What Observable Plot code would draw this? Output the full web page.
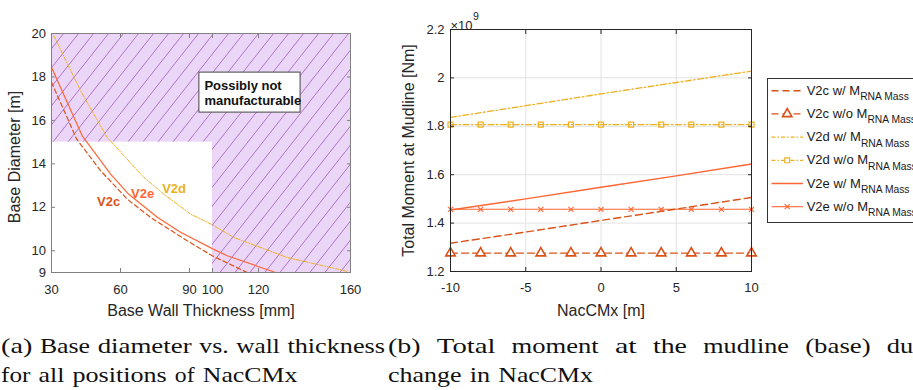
<!DOCTYPE html>
<html>
<head>
<meta charset="utf-8">
<script src="https://cdn.jsdelivr.net/npm/d3@7"></script>
<script src="https://cdn.jsdelivr.net/npm/@observablehq/plot@0.6"></script>
<style>
  html,body{margin:0;padding:0;background:#fff;}
  body{width:913px;height:390px;position:relative;overflow:hidden;}
  .abs{position:absolute;}
</style>
</head>
<body>
<svg width="0" height="0" style="position:absolute">
  <defs>
    <pattern id="hatch" patternUnits="userSpaceOnUse" x="0" y="0" width="15" height="19">
      <rect width="15" height="19" fill="#ECD6F8"></rect>
      <path d="M-1.5,20.9L16.5,-1.9" stroke="#9552B8" stroke-width="0.75" fill="none"></path>
    </pattern>
  </defs>
</svg>
<div id="left" class="abs" style="left:0;top:0"></div>
<div id="right" class="abs" style="left:380px;top:0"></div>
<div id="legend" class="abs" style="left:760px;top:70px"></div>
<div id="caption" class="abs" style="left:0;top:320px"></div>
<script>
// ---------- (a) Base diameter vs. wall thickness ----------
const thickV2c = [30, 40.9, 51.3, 62.9, 73, 89, 99.9, 115.1];
const diamV2c  = [17.76, 15.15, 13.69, 12.38, 11.54, 10.46, 9.77, 9.0];
const thickV2e = [30, 43.3, 55.7, 63.6, 76, 86.1, 99.9, 106.4, 127.4];
const diamV2e  = [18.45, 15.3, 13.53, 12.6, 11.54, 10.85, 10.1, 9.77, 9.0];
const thickV2d = [31, 42.6, 54.2, 70.1, 78.8, 90.4, 99.9, 109.3, 132.5, 158.6];
const diamV2d  = [19.9, 17.37, 15.22, 13.38, 12.61, 11.69, 11.2, 10.61, 9.69, 9.05];
const diamXTicks = [30, 60, 90, 100, 120, 160];
const diamYTicks = [9, 10, 12, 14, 16, 18, 20];
// region considered possibly not manufacturable (thickness > 100 mm or diameter > 15 m)
const hatchX1 = [100, 30], hatchX2 = [160, 100], hatchY1 = [9, 15], hatchY2 = [20, 20];
const noteX = [94.3, 138.3], noteY = [16.36, 18.2];
const noteText = "Possibly not\nmanufacturable";
const curveNames = ["V2c", "V2e", "V2d"];
const curveLabelX = [54.8, 69.6, 83.3];
const curveLabelY = [12.27, 12.64, 12.87];

// ---------- (b) Total moment at mudline vs NacCMx (x 10^9 Nm) ----------
const nacX  = [-10, -8, -6, -4, -2, 0, 2, 4, 6, 8, 10];
const nacXw = [-10, -5, 0, 5, 10];
const v2cWith    = [1.317, 1.363, 1.411, 1.458, 1.506];
const v2dWith    = [1.837, 1.885, 1.934, 1.981, 2.028];
const v2eWith    = [1.454, 1.500, 1.548, 1.595, 1.644];
const v2cWithout = [1.276, 1.276, 1.276, 1.276, 1.276, 1.276, 1.276, 1.276, 1.276, 1.276, 1.276];
const v2dWithout = [1.807, 1.807, 1.807, 1.807, 1.807, 1.807, 1.807, 1.807, 1.807, 1.807, 1.807];
const v2eWithout = [1.457, 1.457, 1.457, 1.457, 1.457, 1.457, 1.457, 1.457, 1.457, 1.457, 1.457];
const momXTicks = [-10, -5, 0, 5, 10];
const momYTicks = [1.2, 1.4, 1.6, 1.8, 2.0, 2.2];
const legendMain = ["V2c w/ M", "V2c w/o M", "V2d w/ M", "V2d w/o M", "V2e w/ M", "V2e w/o M"];
const legendSub = "RNA Mass";

// ---------- captions ----------
const capA1 = ["(a)", "Base", "diameter", "vs.", "wall", "thickness"];
const capA2 = ["for", "all", "positions", "of", "NacCMx"];
const capB1 = ["(b)", "Total", "moment", "at", "the", "mudline", "(base)", "due"];
const capB2 = ["change", "in", "NacCMx"];

const C_V2C = "#D95319", C_V2D = "#EDB120", C_V2E = "#FF6633";
const FONT = "'Liberation Sans', Arial, Helvetica, sans-serif";

function boxAxes(xt, yt, col, xfmt, yfmt, padX, padY) {
  const blank = () => "";
  return [
    Plot.axisX(xt, {anchor: "bottom", tickSize: -4, tickFormat: blank, stroke: col, label: null}),
    Plot.axisX(xt, {anchor: "top", tickSize: -4, tickFormat: blank, stroke: col, label: null}),
    Plot.axisY(yt, {anchor: "left", tickSize: -4, tickFormat: blank, stroke: col, label: null}),
    Plot.axisY(yt, {anchor: "right", tickSize: -4, tickFormat: blank, stroke: col, label: null}),
    Plot.axisX(xt, {anchor: "bottom", tickSize: 0, tickPadding: padX, tickFormat: xfmt, fill: "#262626", label: null}),
    Plot.axisY(yt, {anchor: "left", tickSize: 0, tickPadding: padY, tickFormat: yfmt, fill: "#262626", label: null})
  ];
}
const idx = a => a.map((_, i) => i);

// ---------- left chart ----------
const leftPlot = Plot.plot({
  width: 380, height: 320,
  marginLeft: 51, marginRight: 30, marginTop: 33, marginBottom: 48,
  style: {fontFamily: FONT, fontSize: "13px", color: "#262626", background: "transparent", overflow: "visible"},
  x: {domain: [30, 160]},
  y: {domain: [9, 20]},
  marks: [
    Plot.rect(idx(hatchX1), {x1: i => hatchX1[i], x2: i => hatchX2[i], y1: i => hatchY1[i], y2: i => hatchY2[i], fill: "url(#hatch)"}),
    Plot.line(idx(thickV2d), {x: i => thickV2d[i], y: i => diamV2d[i], stroke: C_V2D, strokeWidth: 1, strokeDasharray: "4,1.5,1,1.5"}),
    Plot.line(idx(thickV2c), {x: i => thickV2c[i], y: i => diamV2c[i], stroke: C_V2C, strokeWidth: 1.2, strokeDasharray: "4.5,3"}),
    Plot.line(idx(thickV2e), {x: i => thickV2e[i], y: i => diamV2e[i], stroke: C_V2E, strokeWidth: 1.2}),
    Plot.rect([0], {x1: noteX[0], x2: noteX[1], y1: noteY[0], y2: noteY[1], fill: "white", stroke: "#444", strokeWidth: 1}),
    Plot.text([noteText], {x: noteX[0], y: (noteY[0] + noteY[1]) / 2, dx: 5, textAnchor: "start", lineAnchor: "middle", fontWeight: "bold", fontSize: 13, lineHeight: 1.2, fill: "#111"}),
    Plot.text([curveNames[0]], {x: curveLabelX[0], y: curveLabelY[0], fill: C_V2C, fontWeight: "bold", fontSize: 13}),
    Plot.text([curveNames[1]], {x: curveLabelX[1], y: curveLabelY[1], fill: C_V2E, fontWeight: "bold", fontSize: 13}),
    Plot.text([curveNames[2]], {x: curveLabelX[2], y: curveLabelY[2], fill: C_V2D, fontWeight: "bold", fontSize: 13}),
    Plot.frame({stroke: "#808080"}),
    ...boxAxes(diamXTicks, diamYTicks, "#808080", d => String(d), d => String(d), 12, 5.5),
    Plot.text(["Base Wall Thickness [mm]"], {frameAnchor: "bottom", dy: 38, fontSize: 16, lineAnchor: "middle", textAnchor: "middle", fill: "#262626"}),
    Plot.text(["Base Diameter [m]"], {frameAnchor: "left", dx: -37, dy: 4, rotate: -90, fontSize: 16, lineAnchor: "middle", textAnchor: "middle", fill: "#262626"})
  ]
});
document.getElementById("left").append(leftPlot);

// ---------- right chart ----------
const rightPlot = Plot.plot({
  width: 390, height: 320,
  marginLeft: 70, marginRight: 19, marginTop: 29, marginBottom: 49,
  style: {fontFamily: FONT, fontSize: "13px", color: "#262626", background: "transparent", overflow: "visible"},
  x: {domain: [-10, 10]},
  y: {domain: [1.2, 2.2]},
  marks: [
    Plot.gridX(momXTicks, {stroke: "#e2e2e2", strokeOpacity: 1}),
    Plot.gridY(momYTicks, {stroke: "#e2e2e2", strokeOpacity: 1}),
    Plot.line(idx(nacXw), {x: i => nacXw[i], y: i => v2dWith[i], stroke: C_V2D, strokeWidth: 1.3, strokeDasharray: "6,2.5,1.5,2.5"}),
    Plot.line(idx(nacX), {x: i => nacX[i], y: i => v2dWithout[i], stroke: C_V2D, strokeWidth: 1.3, strokeDasharray: "6,2.5,1.5,2.5"}),
    Plot.dot(idx(nacX), {x: i => nacX[i], y: i => v2dWithout[i], symbol: "square", r: 2.8, fill: "none", stroke: C_V2D, strokeWidth: 1.2}),
    Plot.line(idx(nacXw), {x: i => nacXw[i], y: i => v2eWith[i], stroke: C_V2E, strokeWidth: 1.4}),
    Plot.line(idx(nacX), {x: i => nacX[i], y: i => v2eWithout[i], stroke: C_V2E, strokeWidth: 1.1}),
    Plot.dot(idx(nacX), {x: i => nacX[i], y: i => v2eWithout[i], symbol: "times", r: 2.4, stroke: C_V2E, strokeWidth: 1.1}),
    Plot.line(idx(nacXw), {x: i => nacXw[i], y: i => v2cWith[i], stroke: C_V2C, strokeWidth: 1.4, strokeDasharray: "7,4"}),
    Plot.line(idx(nacX), {x: i => nacX[i], y: i => v2cWithout[i], stroke: C_V2C, strokeWidth: 1.4, strokeDasharray: "7,4"}),
    Plot.dot(idx(nacX), {x: i => nacX[i], y: i => v2cWithout[i], symbol: "triangle", r: 3.5, fill: "white", stroke: C_V2C, strokeWidth: 1.6}),
    Plot.frame({stroke: "#262626"}),
    ...boxAxes(momXTicks, momYTicks, "#262626", d => String(d), d => String(+d.toFixed(1)), 11, 6),
    Plot.text(["×10"], {frameAnchor: "top-left", textAnchor: "start", dy: -9, fontSize: 13, fill: "#262626"}),
    Plot.text(["9"], {frameAnchor: "top-left", textAnchor: "start", dx: 22.5, dy: -17, fontSize: 10.5, fill: "#262626"}),
    Plot.text(["NacCMx [m]"], {frameAnchor: "bottom", dy: 39, fontSize: 16, lineAnchor: "middle", textAnchor: "middle", fill: "#262626"}),
    Plot.text(["Total Moment at Mudline [Nm]"], {frameAnchor: "left", dx: -42, rotate: -90, fontSize: 16, lineAnchor: "middle", textAnchor: "middle", fill: "#262626"})
  ]
});
document.getElementById("right").append(rightPlot);

// ---------- legend ----------
const leg = d3.select("#legend").append("svg").attr("width", 153).attr("height", 160)
  .style("font-family", "'Liberation Sans', Arial, sans-serif");
leg.append("rect").attr("x", 7.5).attr("y", 8.5).attr("width", 220).attr("height", 144)
  .attr("fill", "white").attr("stroke", "#333").attr("stroke-width", 1);
const legStyle = [
  {c: C_V2C, dash: "7,4", w: 1.4, sym: null},
  {c: C_V2C, dash: "7,4", w: 1.4, sym: "triangle"},
  {c: C_V2D, dash: "4,2,1.5,2", w: 1.3, sym: null},
  {c: C_V2D, dash: "4,2,1.5,2", w: 1.3, sym: "square"},
  {c: C_V2E, dash: null, w: 1.5, sym: null},
  {c: C_V2E, dash: null, w: 1.1, sym: "times"}
];
legendMain.forEach((label, i) => {
  const y = 20.7 + i * 23.2;
  const s = legStyle[i];
  leg.append("line").attr("x1", 11.5).attr("x2", 43).attr("y1", y).attr("y2", y)
    .attr("stroke", s.c).attr("stroke-width", s.w).attr("stroke-dasharray", s.dash);
  if (s.sym === "triangle") {
    leg.append("path").attr("d", d3.symbol(d3.symbolTriangle, 38)()).attr("transform", `translate(27.2,${y})`)
      .attr("fill", "white").attr("stroke", s.c).attr("stroke-width", 1.6);
  } else if (s.sym === "square") {
    leg.append("path").attr("d", d3.symbol(d3.symbolSquare, 24)()).attr("transform", `translate(27.2,${y})`)
      .attr("fill", "white").attr("stroke", s.c).attr("stroke-width", 1.2);
  } else if (s.sym === "times") {
    leg.append("path").attr("d", d3.symbol(d3.symbolTimes, 18)()).attr("transform", `translate(27.2,${y})`)
      .attr("fill", "none").attr("stroke", s.c).attr("stroke-width", 1.1);
  }
  const t = leg.append("text").attr("x", 46.7).attr("y", y + 4).attr("font-size", 13).attr("fill", "#1a1a1a");
  t.append("tspan").text(label);
  t.append("tspan").attr("dy", 5.5).attr("font-size", 10.3).text(legendSub);
});

// ---------- captions ----------
const cmw = {"a":.5,"b":.5556,"c":.4444,"d":.5556,"e":.4444,"f":.3056,"g":.5,"h":.5556,"i":.2778,"k":.5278,"l":.2778,"m":.8333,"n":.5556,"o":.5,"p":.5556,"r":.3917,"s":.3944,"t":.3889,"u":.5556,"v":.5278,"w":.7222,"x":.5278,"y":.5278,"(":.3889,")":.3889,".":.2778,"B":.7083,"C":.7222,"M":.9167,"N":.75,"T":.7222};
const cap = d3.select("#caption").append("svg").attr("width", 913).attr("height", 70)
  .style("font-family", "'Liberation Serif', 'DejaVu Serif', serif").style("font-size", "22px");
function wordW(w, em) { let s = 0; for (const ch of w) s += (cmw[ch] ?? 0.5); return s * em; }
function lineOut(words, x0, x1, y, em, justify) {
  const ws = words.map(w => wordW(w, em));
  const total = ws.reduce((a, b) => a + b, 0);
  const gap = justify ? (x1 - x0 - total) / (words.length - 1) : 0.3333 * em;
  let x = x0;
  words.forEach((w, i) => {
    cap.append("text").attr("x", x).attr("y", y).attr("textLength", ws[i]).attr("lengthAdjust", "spacingAndGlyphs")
      .attr("fill", "#111").text(w);
    x += ws[i] + gap;
  });
}
const EM = 24.5;
lineOut(capA1, 1, 385, 33, EM, true);
lineOut(capA2, 1, 0, 62, EM, false);
lineOut(capB1, 388, 925, 33, EM, true);
lineOut(capB2, 388, 0, 62, EM, false);
</script>
</body>
</html>
